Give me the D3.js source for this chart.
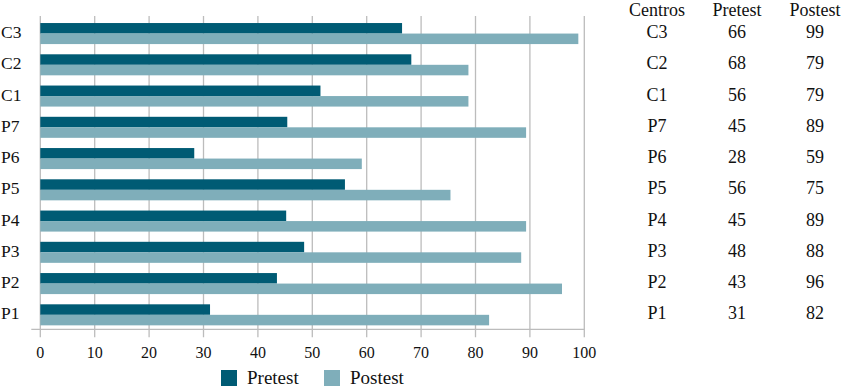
<!DOCTYPE html>
<html>
<head>
<meta charset="utf-8">
<script src="https://cdn.jsdelivr.net/npm/d3@7"></script>
<style>
  body { margin: 0; background: #fff; }
  svg { display: block; }
</style>
</head>
<body>
<script>
// categories, top to bottom
var centros = ["C3", "C2", "C1", "P7", "P6", "P5", "P4", "P3", "P2", "P1"];
// bar lengths as drawn
var pretest = [66.5, 68.2, 51.5, 45.4, 28.3, 56, 45.2, 48.5, 43.5, 31.2];
var postest = [98.9, 78.7, 78.7, 89.3, 59.1, 75.4, 89.3, 88.4, 95.9, 82.5];
// values printed in the side table
var tablaPre = [66, 68, 56, 45, 28, 56, 45, 48, 43, 31];
var tablaPost = [99, 79, 79, 89, 59, 75, 89, 88, 96, 82];
var xTicks = [0, 10, 20, 30, 40, 50, 60, 70, 80, 90, 100];
var series = ["Pretest", "Postest"];

var width = 846, height = 388;
var plot = { left: 40.3, right: 584.3, top: 16, bottom: 329.3 };
var colors = { Pretest: "#005b74", Postest: "#7faeba" };
var fontFam = "'Liberation Serif', 'DejaVu Serif', 'Times New Roman', Times, serif";

var svg = d3.select("body").append("svg")
    .attr("width", width)
    .attr("height", height)
    .attr("font-family", fontFam)
    .style("font-family", fontFam);

var xScale = d3.scaleLinear()
    .domain([0, 100])
    .range([plot.left, plot.right]);

var yScale = d3.scaleBand()
    .domain(centros)
    .range([plot.top, plot.bottom])
    .paddingInner(0.327)
    .paddingOuter(0.176)
    .align(0.64);

var subScale = d3.scaleBand()
    .domain(series)
    .range([0, yScale.bandwidth()]);

// grid lines + ticks
svg.append("g").selectAll("line")
    .data(xTicks)
    .enter().append("line")
    .attr("x1", function (d) { return xScale(d); })
    .attr("x2", function (d) { return xScale(d); })
    .attr("y1", plot.top)
    .attr("y2", plot.bottom + 8)
    .attr("stroke", "#bcbcbc")
    .attr("stroke-width", 1.3);

// bottom axis line
svg.append("line")
    .attr("x1", plot.left - 9)
    .attr("x2", plot.right)
    .attr("y1", plot.bottom)
    .attr("y2", plot.bottom)
    .attr("stroke", "#bcbcbc")
    .attr("stroke-width", 1.3);

// tick labels
svg.append("g").selectAll("text")
    .data(xTicks)
    .enter().append("text")
    .attr("x", function (d) { return xScale(d); })
    .attr("y", 358)
    .attr("text-anchor", "middle")
    .attr("fill", "#111")
    .style("font-size", "16px")
    .text(function (d) { return d; });

// bars
var rows = svg.append("g").selectAll("g")
    .data(centros)
    .enter().append("g")
    .attr("transform", function (d) { return "translate(0," + yScale(d) + ")"; });

rows.append("rect")
    .attr("x", xScale(0))
    .attr("y", subScale("Pretest"))
    .attr("height", subScale.bandwidth())
    .attr("width", function (d, i) { return xScale(pretest[i]) - xScale(0); })
    .attr("fill", colors.Pretest);

rows.append("rect")
    .attr("x", xScale(0))
    .attr("y", subScale("Postest"))
    .attr("height", subScale.bandwidth())
    .attr("width", function (d, i) { return xScale(postest[i]) - xScale(0); })
    .attr("fill", colors.Postest);

// category labels
rows.append("text")
    .attr("x", 1)
    .attr("y", yScale.bandwidth() / 2 + 4.5)
    .attr("fill", "#111")
    .style("font-size", "17.5px")
    .text(function (d) { return d; });

// side table
var cols = [657, 737, 815];
var headers = ["Centros", "Pretest", "Postest"];

svg.append("g").selectAll("text")
    .data(headers)
    .enter().append("text")
    .attr("x", function (d, i) { return cols[i]; })
    .attr("y", 15.5)
    .attr("text-anchor", "middle")
    .attr("fill", "#111")
    .style("font-size", "18px")
    .text(function (d) { return d; });

var tRows = svg.append("g").selectAll("g")
    .data(centros)
    .enter().append("g")
    .attr("transform", function (d) { return "translate(0," + (yScale(d) + yScale.bandwidth() / 2 + 4.5) + ")"; });

tRows.append("text")
    .attr("x", cols[0])
    .attr("text-anchor", "middle")
    .attr("fill", "#111")
    .style("font-size", "18px")
    .text(function (d) { return d; });

tRows.append("text")
    .attr("x", cols[1])
    .attr("text-anchor", "middle")
    .attr("fill", "#111")
    .style("font-size", "18px")
    .text(function (d, i) { return tablaPre[i]; });

tRows.append("text")
    .attr("x", cols[2])
    .attr("text-anchor", "middle")
    .attr("fill", "#111")
    .style("font-size", "18px")
    .text(function (d, i) { return tablaPost[i]; });

// legend
var legendX = [221, 324];
var legend = svg.append("g").selectAll("g")
    .data(series)
    .enter().append("g")
    .attr("transform", function (d, i) { return "translate(" + legendX[i] + ",370)"; });

legend.append("rect")
    .attr("width", 16)
    .attr("height", 16)
    .attr("fill", function (d) { return colors[d]; });

legend.append("text")
    .attr("x", 26)
    .attr("y", 13.5)
    .attr("fill", "#111")
    .style("font-size", "19px")
    .text(function (d) { return d; });
</script>
</body>
</html>
